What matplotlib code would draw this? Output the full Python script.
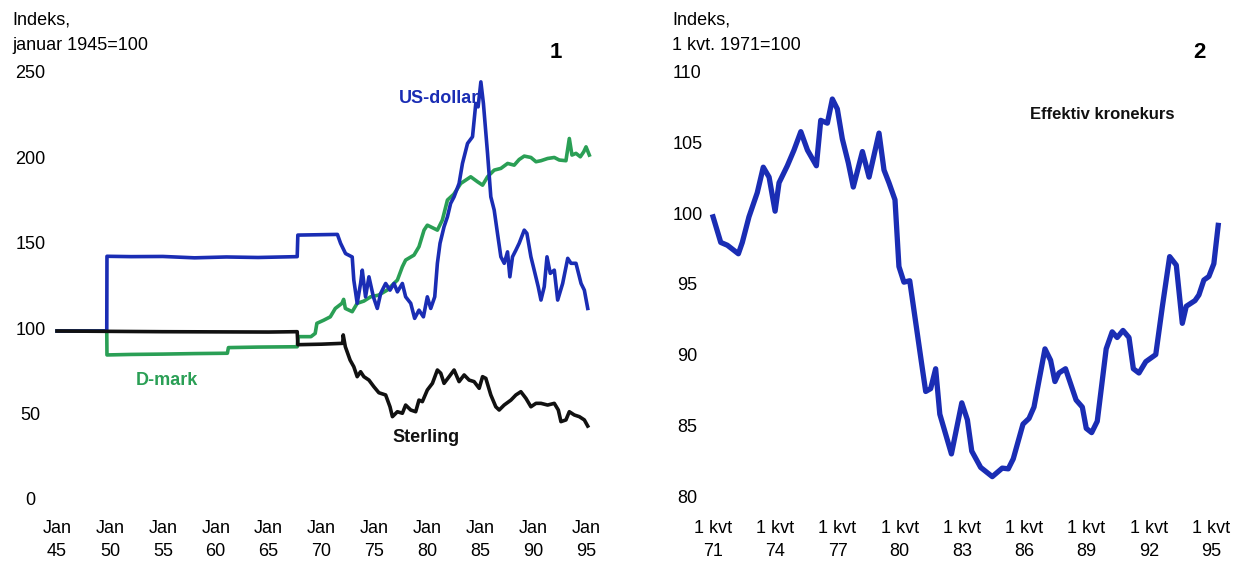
import matplotlib
matplotlib.use('Agg')
import matplotlib.pyplot as plt
from matplotlib.transforms import ScaledTranslation

plt.rcParams['font.family'] = ['Liberation Sans', 'DejaVu Sans']

# Figur 1: kronekurs mot enkeltvalutaer (aar, indeks jan 1945=100)
usd = [(1945.0, 100), (1949.7, 100), (1949.72, 143.7), (1952, 143.5), (1955, 143.6),
       (1958, 142.8), (1961, 143.3), (1964, 143.0), (1967.7, 143.5), (1967.76, 156.1),
       (1971.5, 156.5), (1971.8, 151.3), (1972.27, 145.3), (1972.9, 143.3), (1973.05, 129.8),
       (1973.37, 116.2), (1973.69, 127.8), (1973.85, 135.6), (1974.16, 120), (1974.48, 131.7),
       (1974.9, 120), (1975.27, 113.2), (1975.59, 122), (1976.06, 127.8), (1976.47, 123.9),
       (1976.85, 127.8), (1977.17, 122.9), (1977.64, 127.8), (1977.95, 120), (1978.43, 116.2),
       (1978.8, 107.4), (1979.21, 112.2), (1979.63, 108.3), (1980.0, 120), (1980.32, 113.2),
       (1980.7, 120), (1980.95, 139.6), (1981.2, 151.3), (1981.58, 161), (1981.9, 166.8),
       (1982.2, 174.6), (1982.53, 178.5), (1983.0, 186.3), (1983.32, 198), (1983.8, 209.7),
       (1984.27, 213.6), (1984.58, 233.1), (1984.8, 231.1), (1985.06, 245.7), (1985.3, 233.1),
       (1985.69, 203.9), (1986.0, 178.5), (1986.32, 170.7), (1986.63, 157.1), (1986.95, 143.4),
       (1987.27, 139.6), (1987.58, 146.3), (1987.8, 131.7), (1988.05, 143.4), (1988.37, 147.3),
       (1988.68, 151.3), (1989.16, 159), (1989.41, 157.1), (1989.79, 143.4), (1990.1, 135.6),
       (1990.48, 125.9), (1990.74, 118.1), (1991.05, 125.9), (1991.31, 143.4), (1991.62, 133.7),
       (1992.0, 135.6), (1992.32, 118.1), (1992.79, 127.8), (1993.27, 142.5), (1993.58, 139.6),
       (1994.05, 139.6), (1994.53, 127.8), (1994.84, 123.9), (1995.16, 113.2)]

dem = [(1945.0, 100), (1949.7, 100), (1949.72, 86), (1952, 86.3), (1955, 86.5),
       (1958, 86.8), (1961.1, 87), (1961.2, 90.3), (1964, 90.6), (1967.7, 90.8),
       (1967.8, 96.7), (1969.0, 96.7), (1969.4, 98.6), (1969.56, 104.5), (1970.2, 106.3),
       (1970.83, 108.3), (1971.3, 113.2), (1971.93, 116.2), (1972.09, 118.5), (1972.25, 113.2),
       (1972.9, 111.3), (1973.37, 116.2), (1974.0, 117.5), (1974.64, 120), (1975.4, 121),
       (1976.2, 123.9), (1977.17, 129.8), (1977.64, 137.6), (1977.95, 141.5), (1978.74, 144.4),
       (1979.21, 149.3), (1979.69, 159), (1980.0, 161.9), (1980.95, 159), (1981.42, 164.9),
       (1981.9, 176.6), (1982.5, 180), (1983.16, 186.3), (1984.1, 190.2), (1984.74, 187.3),
       (1985.22, 185.3), (1985.69, 190.2), (1986.32, 194.1), (1986.95, 195.1), (1987.59, 198),
       (1988.21, 197), (1988.68, 200.3), (1989.16, 202.3), (1989.79, 201.5), (1990.27, 199),
       (1990.74, 199.6), (1991.37, 200.9), (1992.0, 201.5), (1992.47, 200), (1993.1, 199.6),
       (1993.42, 212.6), (1993.67, 202.9), (1994.05, 203.9), (1994.46, 201.9), (1994.78, 204.8),
       (1995.0, 207.7), (1995.31, 202.9)]

gbp = [(1945.0, 100), (1950, 99.8), (1955, 99.6), (1960, 99.5), (1965, 99.4),
       (1967.7, 99.6), (1967.76, 92), (1970, 92.3), (1972.0, 92.8), (1972.05, 97.7),
       (1972.25, 90.8), (1972.7, 83), (1973.05, 79.1), (1973.37, 73.3), (1973.69, 76.2),
       (1974.0, 73.3), (1974.48, 71.3), (1974.95, 67.4), (1975.42, 63.9), (1976.06, 62.6),
       (1976.47, 55.7), (1976.7, 49.9), (1977.17, 52.8), (1977.64, 51.9), (1977.95, 56.7),
       (1978.43, 53.8), (1978.9, 52.8), (1979.21, 59.6), (1979.53, 58.7), (1980.0, 65.5),
       (1980.48, 69.4), (1980.95, 77.2), (1981.27, 75.3), (1981.58, 69.4), (1982.06, 73.3),
       (1982.53, 77.2), (1983.0, 70.4), (1983.48, 74.3), (1983.95, 71.3), (1984.42, 70.4),
       (1984.9, 66.5), (1985.22, 73.3), (1985.53, 72.3), (1986.0, 62.6), (1986.47, 55.7),
       (1986.79, 53.8), (1987.26, 56.7), (1987.9, 59.6), (1988.37, 62.6), (1988.84, 64.5),
       (1989.32, 60.6), (1989.79, 55.7), (1990.27, 57.7), (1990.74, 57.7), (1991.37, 56.7),
       (1992.0, 57.7), (1992.38, 53.8), (1992.63, 47), (1993.1, 48), (1993.42, 52.8),
       (1993.89, 50.9), (1994.37, 49.9), (1994.84, 48), (1995.16, 44.4)]

# Figur 2: effektiv kronekurs (aar, indeks 1 kvt 1971=100)
kronekurs = [(1971.0, 99.8), (1971.37, 98.0), (1971.69, 97.8), (1972.22, 97.2), (1972.41, 98.0),
             (1972.73, 99.8), (1973.13, 101.5), (1973.42, 103.3), (1973.7, 102.6), (1973.99, 100.2),
             (1974.18, 102.2), (1974.58, 103.4), (1974.9, 104.5), (1975.23, 105.8), (1975.55, 104.5),
             (1975.98, 103.4), (1976.19, 106.6), (1976.51, 106.4), (1976.75, 108.1), (1976.99, 107.4),
             (1977.23, 105.3), (1977.52, 103.6), (1977.76, 101.9), (1978.2, 104.4), (1978.52, 102.6),
             (1979.0, 105.7), (1979.24, 103.1), (1979.48, 102.2), (1979.77, 101.0), (1979.96, 96.3),
             (1980.2, 95.2), (1980.48, 95.3), (1981.05, 89.5), (1981.25, 87.5), (1981.49, 87.7),
             (1981.73, 89.1), (1981.93, 85.9), (1982.49, 83.1), (1982.99, 86.7), (1983.26, 85.5),
             (1983.47, 83.3), (1983.9, 82.15), (1984.46, 81.5), (1984.94, 82.1), (1985.23, 82.05),
             (1985.47, 82.75), (1985.94, 85.2), (1986.23, 85.6), (1986.47, 86.4), (1987.0, 90.5),
             (1987.27, 89.7), (1987.48, 88.2), (1987.67, 88.8), (1987.99, 89.1), (1988.5, 86.9),
             (1988.8, 86.4), (1988.99, 84.9), (1989.25, 84.6), (1989.52, 85.4), (1989.95, 90.5),
             (1990.24, 91.7), (1990.48, 91.3), (1990.76, 91.8), (1991.05, 91.3), (1991.26, 89.1),
             (1991.53, 88.8), (1991.86, 89.6), (1992.34, 90.1), (1992.66, 93.5), (1993.01, 97.0),
             (1993.33, 96.4), (1993.62, 92.3), (1993.81, 93.5), (1994.23, 93.9), (1994.42, 94.3),
             (1994.66, 95.35), (1994.9, 95.6), (1995.14, 96.5), (1995.35, 99.2)]

aar1 = [1945, 1950, 1955, 1960, 1965, 1970, 1975, 1980, 1985, 1990, 1995]
aar1_tekst = ['Jan\n' + str(a)[2:] for a in aar1]
y1 = [0, 50, 100, 150, 200, 250]

aar2 = [1971, 1974, 1977, 1980, 1983, 1986, 1989, 1992, 1995]
aar2_tekst = ['1 kvt\n' + str(a)[2:] for a in aar2]
y2 = [80, 85, 90, 95, 100, 105, 110]

BLAA = '#1a2db4'
GROENN = '#2a9f55'
SVART = '#111111'

W, H = 1238, 562
fig = plt.figure(figsize=(W / 100, H / 100), dpi=100)

def px(x0, y0, x1, y1_):
    # pikselboks -> figurbrok
    return [x0 / W, 1 - y1_ / H, (x1 - x0) / W, (y1_ - y0) / H]

def stil(ax, loft):
    for s in ax.spines.values():
        s.set_visible(False)
    ax.tick_params(length=0, labelsize=13)
    for t in ax.get_xticklabels():
        t.set_linespacing(1.5)
    opp = ScaledTranslation(0, loft / 100, fig.dpi_scale_trans)
    for t in ax.get_yticklabels():
        t.set_horizontalalignment('center')
        t.set_transform(t.get_transform() + opp)

################################################## Figur 1
ax1 = fig.add_axes(px(40, 60, 600, 510))
for serie, farge in [(dem, GROENN), (usd, BLAA), (gbp, SVART)]:
    x, y = zip(*serie)
    ax1.plot(x, y, color=farge, linewidth=2.6, solid_joinstyle='round')
ax1.set_xlim(1943.39, 1996.32)
ax1.set_ylim(-4.68, 258.5)
ax1.set_xticks(aar1)
ax1.set_xticklabels(aar1_tekst)
ax1.set_yticks(y1)
ax1.tick_params(axis='y', pad=7)
ax1.tick_params(axis='x', pad=7)
stil(ax1, 3)

ax1.text(1977.3, 236, 'US-dollar', color=BLAA, fontsize=13, fontweight='bold', va='center')
ax1.text(1952.4, 71.3, 'D-mark', color=GROENN, fontsize=13, fontweight='bold', va='center')
ax1.text(1976.7, 38, 'Sterling', color=SVART, fontsize=13, fontweight='bold', va='center')

fig.text(12 / W, 1 - 20 / H, 'Indeks,', fontsize=13, va='center')
fig.text(12 / W, 1 - 45 / H, 'januar 1945=100', fontsize=13, va='center')
fig.text(556 / W, 1 - 52 / H, '1', fontsize=16, fontweight='bold', ha='center', va='center')

################################################## Figur 2
ax2 = fig.add_axes(px(700, 60, 1235, 510))
x, y = zip(*kronekurs)
ax2.plot(x, y, color=BLAA, linewidth=3.8, solid_joinstyle='round')
ax2.set_xlim(1970.37, 1996.16)
ax2.set_ylim(79.15, 110.85)
ax2.set_xticks(aar2)
ax2.set_xticklabels(aar2_tekst)
ax2.set_yticks(y2)
ax2.tick_params(axis='y', pad=9)
ax2.tick_params(axis='x', pad=7)
stil(ax2, 1)

ax2.text(1986.28, 107.0, 'Effektiv kronekurs', color=SVART, fontsize=12,
         fontweight='bold', va='center')

fig.text(672 / W, 1 - 20 / H, 'Indeks,', fontsize=13, va='center')
fig.text(672 / W, 1 - 45 / H, '1 kvt. 1971=100', fontsize=13, va='center')
fig.text(1199 / W, 1 - 52 / H, '2', fontsize=16, fontweight='bold', ha='center', va='center')

fig.savefig('out.png', dpi=100)
